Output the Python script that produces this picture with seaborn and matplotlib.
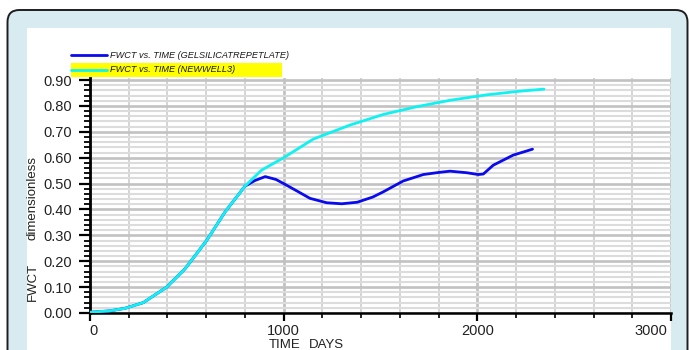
import matplotlib
matplotlib.use("Agg")
import matplotlib.pyplot as plt
from matplotlib import font_manager
from matplotlib.patches import FancyBboxPatch, Rectangle
from matplotlib.lines import Line2D
from matplotlib.transforms import IdentityTransform, ScaledTranslation
from matplotlib.ticker import MultipleLocator, FormatStrFormatter
import pandas as pd
import seaborn as sns

# Water cut history for the gel-treated well
time_gel = [0, 100, 180, 275, 396, 490, 602, 697, 800, 852, 905, 960, 1000, 1060,
            1136, 1222, 1300, 1380, 1460, 1514, 1617, 1721, 1800, 1859, 1945, 2005,
            2031, 2082, 2185, 2285]
fwct_gel = [0.003, 0.008, 0.018, 0.040, 0.100, 0.170, 0.280, 0.390, 0.490, 0.512,
            0.527, 0.516, 0.500, 0.475, 0.443, 0.426, 0.422, 0.428, 0.448, 0.468,
            0.510, 0.535, 0.543, 0.548, 0.542, 0.535, 0.537, 0.571, 0.610, 0.633]

# Water cut history for the new well
time_new = [0, 100, 181, 275, 396, 490, 602, 697, 800, 886, 1000, 1153, 1342, 1514,
            1686, 1860, 2048, 2220, 2344]
fwct_new = [0.003, 0.008, 0.018, 0.040, 0.100, 0.170, 0.280, 0.390, 0.490, 0.552,
            0.600, 0.672, 0.726, 0.767, 0.797, 0.822, 0.843, 0.857, 0.865]

series_names = ["FWCT vs. TIME (GELSILICATREPETLATE)", "FWCT vs. TIME (NEWWELL3)"]
series_colors = ["#0a0aee", "#10f2f2"]

x_ticks = [0, 1000, 2000, 3000]
y_ticks = [0.0, 0.1, 0.2, 0.3, 0.4, 0.5, 0.6, 0.7, 0.8, 0.9]

df = pd.concat([
    pd.DataFrame({"time": time_gel, "fwct": fwct_gel, "well": series_names[0]}),
    pd.DataFrame({"time": time_new, "fwct": fwct_new, "well": series_names[1]}),
])

sns.set_style("white")
names = {f.name for f in font_manager.fontManager.ttflist}
narrow = "Liberation Sans Narrow" if "Liberation Sans Narrow" in names else None
plt.rcParams["font.family"] = ["Liberation Sans", "DejaVu Sans"]

W, H = 689, 350
fig = plt.figure(figsize=(W / 100, H / 100), dpi=100)
fig.patch.set_facecolor("white")
px = IdentityTransform()

# Rounded light-blue frame and white panel behind the axes
frame = FancyBboxPatch((7.5, -30), 680, 370, boxstyle="round,pad=0,rounding_size=12",
                       transform=px, facecolor="#d8ebf0", edgecolor="#1e1e1e",
                       linewidth=1.4, zorder=-3)
fig.patches.append(frame)
panel = Rectangle((27, 0), 644, H - 28, transform=px, facecolor="white",
                  edgecolor="none", zorder=-2)
fig.patches.append(panel)

ax = fig.add_axes([90 / W, 37 / H, 581 / W, 235 / H])
ax.set_zorder(1)
ax.set_facecolor("white")

sns.lineplot(data=df, x="time", y="fwct", hue="well", palette=series_colors,
             hue_order=series_names, linewidth=2.0, legend=False, ax=ax, zorder=3)
for ln in ax.get_lines():
    ln.set_solid_joinstyle("round")
    ln.set_solid_capstyle("round")

ax.set_xlim(0, 3000)
ax.set_ylim(0, 0.908)
ax.set_xticks(x_ticks)
ax.set_yticks(y_ticks)
ax.xaxis.set_minor_locator(MultipleLocator(200))
ax.yaxis.set_minor_locator(MultipleLocator(0.02))
ax.yaxis.set_major_formatter(FormatStrFormatter("%.2f"))
ax.set_xlabel("")
ax.set_ylabel("")

ax.set_axisbelow(True)
ax.grid(which="minor", axis="y", color="#dcdcdc", linewidth=1.5)
ax.grid(which="major", axis="y", color="#c2c2c2", linewidth=1.9)
ax.grid(which="minor", axis="x", color="#d4d4d4", linewidth=1.4)
ax.grid(which="major", axis="x", color="#c0c0c0", linewidth=1.9)

for side in ["top", "right"]:
    ax.spines[side].set_visible(False)
ax.spines["left"].set_linewidth(2.0)
ax.spines["bottom"].set_linewidth(1.8)
ax.spines["left"].set_color("black")
ax.spines["bottom"].set_color("black")

ax.tick_params(which="both", left=True, bottom=True, top=False, right=False)
ax.tick_params(axis="y", which="major", direction="out", length=8, width=1.6,
               pad=5, labelsize=10.5, labelcolor="#222222", color="black")
ax.tick_params(axis="y", which="minor", direction="out", length=4, width=1.3,
               color="black")
ax.tick_params(axis="x", which="major", direction="out", length=6, width=1.6,
               pad=2, labelsize=10.5, labelcolor="#222222", color="black")
ax.tick_params(axis="x", which="minor", direction="out", length=3.6, width=1.2,
               color="black")

xlabels = ax.get_xticklabels()
xlabels[0].set_transform(xlabels[0].get_transform()
                         + ScaledTranslation(0.04, 0, fig.dpi_scale_trans))
xlabels[-1].set_transform(xlabels[-1].get_transform()
                          + ScaledTranslation(-0.20, 0, fig.dpi_scale_trans))

# Axis titles
lab_kw = dict(transform=px, fontsize=9.5, color="#222222")
fig.text(284.5, H - 345, "TIME", ha="center", va="center", **lab_kw)
fig.text(326, H - 345, "DAYS", ha="center", va="center", **lab_kw)
fig.text(33, H - 282, "FWCT", rotation=90, ha="center", va="center", **lab_kw)
fig.text(33, H - 198, "dimensionless", rotation=90, ha="center", va="center", **lab_kw)

# Legend block above the plot
leg_family = [narrow, "Liberation Sans"] if narrow else ["Liberation Sans"]
leg_size = 7.7 if narrow else 6.6
fig.patches.append(Rectangle((71, H - 77), 211, 14, transform=px,
                             facecolor="#ffff00", edgecolor="none", zorder=1))
for i, (name, color) in enumerate(zip(series_names, series_colors)):
    yy = H - (55 + 15 * i)
    fig.lines.append(Line2D([71, 107], [yy, yy], transform=px, color=color,
                            linewidth=2.0, zorder=2))
    fig.text(110, yy, name, transform=px, ha="left", va="center", style="italic",
             family=leg_family, fontsize=leg_size, color="#1a1a1a", zorder=3)

fig.savefig("out.png", dpi=100)
